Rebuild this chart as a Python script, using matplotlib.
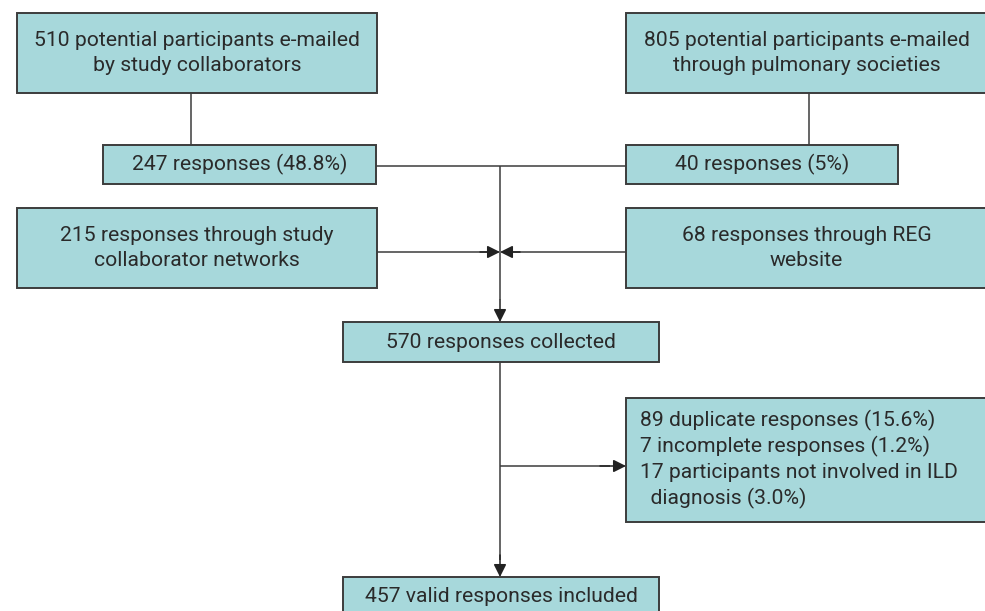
import matplotlib.pyplot as plt
from matplotlib.patches import Rectangle

plt.rcParams['font.family'] = ['Roboto', 'DejaVu Sans']

# box texts
top_left = '510 potential participants e-mailed\nby study collaborators'
top_right = '805 potential participants e-mailed\nthrough pulmonary societies'
resp_left = '247 responses (48.8%)'
resp_right = '40 responses (5%)'
net_left = '215 responses through study\ncollaborator networks'
net_right = '68 responses through REG\nwebsite'
collected = '570 responses collected'
excluded = ['89 duplicate responses (15.6%)',
            '7 incomplete responses (1.2%)',
            '17 participants not involved in ILD',
            '  diagnosis (3.0%)']
included = '457 valid responses included'

fill = '#a7d8db'
edge = '#3c3c3c'
txt = '#2a2a2a'
fs = 15.2

fig = plt.figure(figsize=(9.85, 6.11), dpi=100)
ax = fig.add_axes([0, 0, 1, 1])
ax.set_xlim(0, 985)
ax.set_ylim(611, 0)
ax.axis('off')

def box(x0, y0, x1, y1, text=None):
    ax.add_patch(Rectangle((x0, y0), x1 - x0, y1 - y0, facecolor=fill,
                           edgecolor=edge, lw=1.4, zorder=2))
    if text is not None:
        ax.text((x0 + x1) / 2, (y0 + y1) / 2, text, ha='center', va='center',
                fontsize=fs, color=txt, linespacing=1.42, zorder=3)

def line(xs, ys):
    ax.plot(xs, ys, color=edge, lw=1.1, zorder=1, solid_capstyle='butt')

def arrow(x0, y0, x1, y1):
    ax.annotate('', xy=(x1, y1), xytext=(x0, y0),
                arrowprops=dict(arrowstyle='-|>', color='#222222', lw=1.1,
                                mutation_scale=19, shrinkA=0, shrinkB=0),
                zorder=4)

# connectors
line([191, 191], [93, 145])
line([809, 809], [93, 145])
line([376, 626], [166, 166])
line([500, 500], [166, 300])
line([377, 490], [252, 252])
line([510, 626], [252, 252])
arrow(480, 252, 500, 252)
arrow(520, 252, 500, 252)
arrow(500, 300, 500, 322)
line([500, 500], [362, 560])
arrow(500, 555, 500, 577)
line([500, 610], [466, 466])
arrow(600, 466, 626, 466)

# boxes
box(17, 13, 377, 93, top_left)
box(626, 13, 987, 93, top_right)
box(103, 145, 376, 184, resp_left)
box(626, 145, 898, 184, resp_right)
box(17, 208, 377, 288, net_left)
box(626, 208, 987, 288, net_right)
box(343, 322, 659, 362, collected)
box(626, 398, 987, 522)
for i, s in enumerate(excluded):
    ax.text(640, 420 + 26 * i, s, ha='left', va='center', fontsize=fs,
            color=txt, zorder=3)
box(343, 577, 659, 620)
ax.text(501, 596, included, ha='center', va='center', fontsize=fs,
        color=txt, zorder=3)

fig.savefig('out.png', dpi=100)
